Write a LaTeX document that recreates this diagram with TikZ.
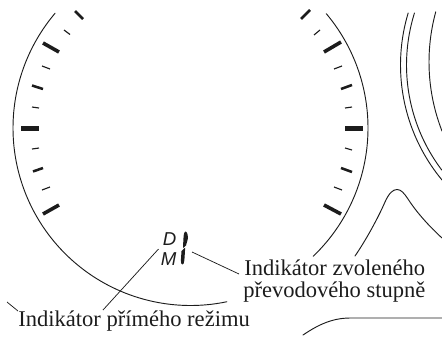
\documentclass[tikz,border=0pt]{standalone}
\usepackage{fontspec}
\setmainfont{Liberation Serif}
\newfontfamily\dmfont{Liberation Sans}
\usetikzlibrary{calc,positioning}
\definecolor{inkgray}{HTML}{1C1C1C}

\begin{document}
\begin{tikzpicture}[x=0.75pt,y=-0.75pt,color=inkgray,
  outline/.style={line width=0.7pt,line cap=round},
  leader/.style={line width=0.55pt},
  tickmin/.style={line width=0.85pt},
  tickmed/.style={line width=1.9pt},
  tickmaj/.style={line width=2.7pt},
  tickbig/.style={line width=3.9pt},
  lbl/.style={font=\fontsize{16.9pt}{20pt}\selectfont,anchor=base west,inner sep=0pt},
  gear/.style={font=\dmfont\itshape\fontsize{14pt}{16pt}\selectfont,anchor=base west,inner sep=0pt}]
  \useasboundingbox (0,0) rectangle (442,336);
  % gauge rim
  \draw[outline] plot[domain=220.3:78.2,samples=90,smooth] ({190.5+177.5*cos(\x)},{128+177.5*sin(\x)});
  \draw[outline] plot[domain=-40.1:46.3,samples=60,smooth] ({190.5+177.5*cos(\x)},{128+177.5*sin(\x)});
  % outer shapes
  \draw[outline] plot[domain=196.8:140.3,samples=40,smooth] ({580.5+180*cos(\x)},{65+180*sin(\x)});
  \draw[outline] plot[domain=197.4:142.9,samples=40,smooth] ({580.5+174*cos(\x)},{65+174*sin(\x)});
  \draw[outline] plot[domain=195.3:158.7,samples=30,smooth] ({619+190*cos(\x)},{62+190*sin(\x)});
  \draw[outline] (355,256) .. controls (366,240) and (378,218) .. (385,202) .. controls (389,193) and (393,189.5) .. (397,189.5) .. controls (401,189.5) and (404,193) .. (408,199) .. controls (417,213) and (430,227) .. (442,238);
  \draw[outline] (303,335) .. controls (315,327) and (330,318) .. (350,318) -- (442,318);
  \draw[leader] (7,302) -- (18,311);
  % ticks left and right
  \foreach \a/\b/\c/\d/\s in {75/11/83/19/tickmed,64/30/70/34.5/tickmin,43/43/59/52/tickmaj,42/66/50/69/tickmin,32/85.5/43/89/tickmed,32/107/39/108/tickmin,21/128.5/39/128.5/tickbig,32/149/39/148/tickmin,33/171.5/43/168/tickmed,42/190/50/187/tickmin,43/214/59/205/tickmaj,301/19/310/10/tickmed,314/35/320/30/tickmin,324/52/341/42/tickmaj,334/69/342/66/tickmin,341/89/352/85/tickmed,345/108/352/107/tickmin,345/128.5/363/128.5/tickbig,345/148/352/150/tickmin,341/168/352/172/tickmed,334/187/342/190/tickmin,324/205/341/214/tickmaj}
    \draw[\s] (\a,\b) -- (\c,\d);
  % gear indicator
  \node[gear] (gearD) at (162.5,245) {D};
  \node[gear] (gearM) at (160.5,265.5) {M};
  \fill (185.5,231.5) .. controls (187,231.5) and (188.2,235) .. (187.8,239) -- (186,245.5) -- (183,248) -- (183.4,239) .. controls (183.6,235) and (184.2,231.5) .. (185.5,231.5) -- cycle;
  \fill (183,249.5) -- (185.2,247.5) -- (184.4,260) .. controls (184.2,263) and (183.4,264.5) .. (182.4,264.5) .. controls (181.2,264.5) and (180.8,263) .. (180.9,260) -- (181.5,251) -- cycle;
  % labels
  \node[lbl] (lblDirect) at (18,326) {Indikátor přímého režimu};
  \node[lbl] (lblGearA) at (244,275) {Indikátor zvoleného};
  \node[lbl] (lblGearB) at (243,297) {převodového stupně};
  \coordinate (ldrA) at (158.5,249);
  \coordinate (ldrB) at (103,310);
  \coordinate (ldrC) at (192,252);
  \coordinate (ldrD) at (239,274);
  \draw[leader] (ldrA) -- (ldrB);
  \draw[leader] (ldrC) -- (ldrD);
\end{tikzpicture}
\end{document}
